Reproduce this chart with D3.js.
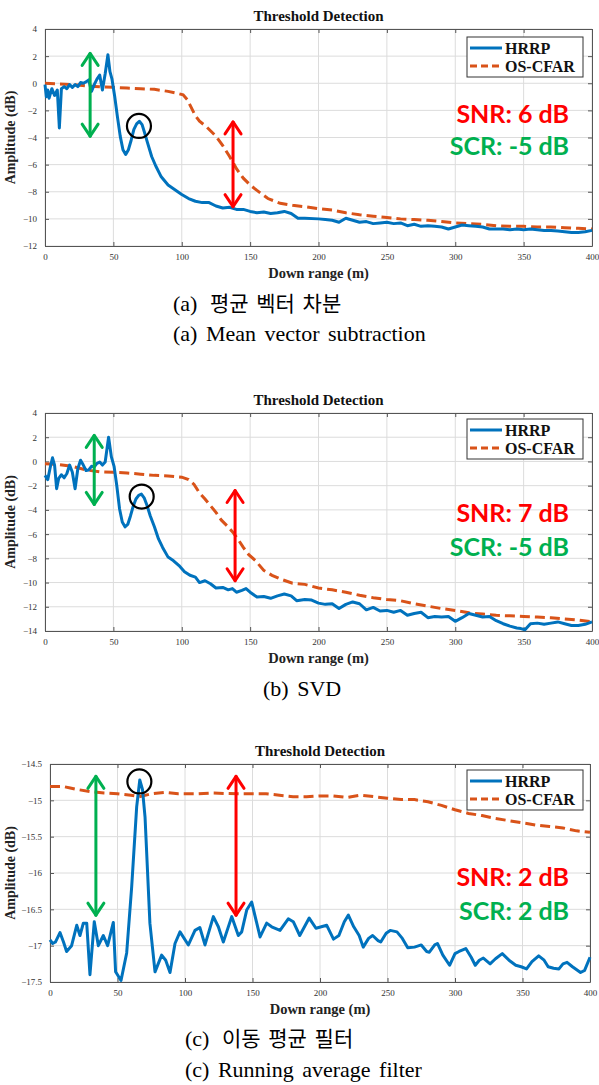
<!DOCTYPE html>
<html>
<head>
<meta charset="utf-8">
<script src="https://cdn.jsdelivr.net/npm/d3@7"></script>
<style>
  body { margin: 0; background: #fff; }
  svg { display: block; }
</style>
</head>
<body>
<svg id="chart" width="599" height="1085"></svg>
<script>
// tick values
var xTicks = [0, 50, 100, 150, 200, 250, 300, 350, 400];
var yTicksA = [4, 2, 0, -2, -4, -6, -8, -10, -12];
var yTicksB = [4, 2, 0, -2, -4, -6, -8, -10, -12, -14];
var yTicksC = [-14.5, -15, -15.5, -16, -16.5, -17, -17.5];

// (a) mean vector subtraction  [range m, amplitude dB]
var meanHrrp = [[0,-0.1],[1,-1.0],[2,-0.5],[3,-1.1],[5,-0.4],[7,-0.9],[9,-0.5],[10.5,-3.3],[12,-0.4],[14,-0.25],[16,-0.4],[18,-0.1],[20,-0.3],[22,-0.1],[24,-0.25],[26,0.05],[28,0],[30,0.1],[32,0.25],[34,-0.6],[36,-0.1],[38,0.3],[40,0.6],[42,-0.5],[44,0.7],[46,2.1],[47.5,0.85],[49,0.3],[51,-1.0],[53,-2.5],[55,-3.9],[57,-4.9],[59,-5.25],[61,-4.9],[63,-4.2],[65,-3.4],[67,-3.0],[69,-2.8],[71,-3.05],[73,-3.7],[75,-4.4],[78,-5.4],[81,-6.1],[85,-6.9],[90,-7.5],[95,-7.85],[100,-8.2],[105,-8.5],[110,-8.7],[115,-8.8],[120,-8.8],[125,-9.05],[130,-9.2],[135,-9.15],[140,-9.3],[145,-9.3],[150,-9.45],[155,-9.55],[160,-9.5],[165,-9.6],[170,-9.55],[175,-9.45],[180,-9.6],[185,-9.95],[190,-9.95],[200,-10.0],[205,-10.05],[210,-10.1],[215,-10.25],[220,-9.95],[225,-10.1],[230,-10.25],[235,-10.2],[240,-10.35],[245,-10.3],[250,-10.25],[255,-10.35],[260,-10.3],[265,-10.5],[270,-10.4],[275,-10.55],[280,-10.5],[285,-10.55],[290,-10.6],[295,-10.75],[300,-10.6],[305,-10.45],[310,-10.5],[315,-10.55],[320,-10.6],[325,-10.75],[330,-10.75],[335,-10.75],[340,-10.8],[345,-10.75],[350,-10.8],[355,-10.75],[360,-10.8],[365,-10.85],[370,-10.85],[375,-10.9],[380,-10.95],[385,-11.0],[390,-11.0],[395,-10.95],[400,-10.85]];
var meanCfar = [[0,0],[10,-0.05],[20,-0.1],[30,-0.2],[40,-0.25],[50,-0.3],[60,-0.35],[70,-0.4],[80,-0.45],[90,-0.6],[97,-0.75],[101,-0.85],[104,-1.2],[107,-1.8],[110,-2.4],[113,-2.8],[118,-3.2],[125,-3.9],[130,-4.6],[135,-5.4],[140,-6.3],[145,-7.0],[150,-7.5],[155,-7.9],[163,-8.5],[172,-8.85],[181,-9.0],[190,-9.1],[200,-9.25],[210,-9.35],[220,-9.55],[230,-9.7],[240,-9.8],[250,-9.9],[260,-10.0],[270,-10.05],[280,-10.1],[290,-10.2],[300,-10.3],[310,-10.35],[320,-10.4],[330,-10.5],[340,-10.55],[350,-10.55],[360,-10.6],[370,-10.6],[380,-10.65],[390,-10.7],[400,-10.75]];

// (b) SVD
var svdHrrp = [[0,-1.15],[2,-1.5],[4,-0.4],[5.5,0.3],[7,-0.3],[8.5,-2.25],[10,-1.4],[12,-1.1],[14,-1.35],[16,-1.0],[18,-0.3],[20,-0.9],[22,-2.25],[24,-0.6],[26,0.1],[28,-0.3],[30,-0.75],[32,-0.7],[34,-0.4],[36,-0.45],[38,-0.15],[40,-0.05],[42,-0.3],[44,-0.05],[46.5,2.0],[48.5,0.4],[50.5,-0.4],[52.5,-2.0],[54.5,-3.9],[56.5,-5.0],[58.5,-5.4],[60.5,-5.2],[62.5,-4.5],[64.5,-3.7],[66.5,-3.1],[68.5,-2.8],[70.5,-2.7],[72.5,-3.0],[74.5,-3.6],[77,-4.5],[80,-5.4],[83,-6.4],[86,-7.1],[90,-7.9],[94,-8.2],[98,-8.6],[102,-9.1],[106,-9.4],[110,-9.55],[113,-10.0],[117,-9.85],[121,-10.1],[125,-10.45],[130,-10.4],[134,-10.6],[137,-10.5],[140,-10.8],[144,-10.65],[147,-10.5],[150,-10.8],[155,-11.2],[160,-11.15],[165,-11.3],[170,-11.1],[175,-10.95],[180,-11.1],[184,-11.5],[190,-11.4],[195,-11.45],[200,-11.7],[205,-11.8],[210,-11.75],[215,-12.15],[220,-11.8],[225,-11.6],[230,-11.75],[235,-12.25],[240,-12.05],[245,-12.35],[250,-12.3],[255,-12.45],[260,-12.3],[265,-12.7],[270,-12.55],[275,-12.45],[280,-12.9],[285,-12.8],[290,-12.85],[295,-12.8],[300,-13.2],[305,-12.9],[310,-12.55],[315,-12.7],[320,-12.85],[325,-12.8],[330,-13.15],[335,-13.4],[340,-13.6],[345,-13.75],[348,-13.8],[351,-13.9],[355,-13.4],[360,-13.35],[365,-13.45],[370,-13.35],[375,-13.25],[380,-13.4],[385,-13.55],[390,-13.55],[395,-13.45],[400,-13.25]];
var svdCfar = [[0,-0.2],[10,-0.25],[20,-0.4],[30,-0.7],[40,-0.85],[50,-0.9],[60,-0.95],[70,-1.05],[80,-1.15],[90,-1.2],[100,-1.3],[105,-1.5],[109,-1.9],[113,-2.6],[117,-3.1],[121,-3.65],[125,-4.2],[129,-4.85],[133,-5.3],[137,-5.8],[141,-6.4],[145,-7.1],[149,-7.7],[154,-8.2],[160,-9.0],[166,-9.4],[172,-9.7],[181,-10.05],[190,-10.15],[200,-10.45],[210,-10.6],[220,-10.8],[230,-11.05],[240,-11.25],[250,-11.4],[260,-11.5],[270,-11.75],[280,-11.95],[290,-12.15],[300,-12.3],[310,-12.5],[320,-12.6],[330,-12.7],[340,-12.75],[350,-12.8],[360,-12.85],[370,-12.9],[380,-13.0],[390,-13.1],[400,-13.25]];

// (c) running average filter
var runHrrp = [[0,-16.92],[2,-16.97],[4,-16.95],[7.4,-16.82],[10,-16.95],[12.3,-17.08],[16,-17.0],[19.8,-16.72],[22.2,-16.86],[24.7,-16.69],[27.2,-16.69],[29.6,-17.4],[32.8,-16.67],[35.8,-17.0],[39.5,-16.86],[42.7,-17.0],[46.9,-16.68],[48.6,-17.36],[52.6,-17.48],[56.8,-17.1],[60.5,-16.19],[64.2,-15.09],[66.5,-14.72],[68.5,-14.85],[70.4,-15.23],[74,-16.69],[77.8,-17.36],[82.7,-17.13],[85.7,-17.2],[88.9,-17.37],[92.6,-16.97],[96.3,-16.81],[102.5,-16.99],[107.4,-16.79],[111,-16.75],[114.8,-16.99],[121,-16.6],[124.7,-16.74],[128.4,-16.95],[134.6,-16.6],[139.5,-16.86],[142,-16.81],[145.7,-16.51],[149.4,-16.4],[155.6,-16.88],[160.5,-16.69],[164.2,-16.74],[170.4,-16.79],[176.5,-16.63],[180.2,-16.67],[185,-16.86],[192,-16.62],[197,-16.76],[201,-16.74],[205,-16.72],[210,-16.91],[214,-16.86],[218,-16.67],[221,-16.58],[225,-16.74],[229,-16.86],[232,-17.02],[236,-16.9],[239,-16.86],[243,-16.93],[245,-16.95],[249,-16.83],[252,-16.79],[257,-16.81],[261,-16.9],[265,-17.03],[270,-17.02],[275,-16.99],[279,-17.08],[281,-17.09],[285,-16.99],[287,-16.97],[291,-17.13],[296,-17.27],[300,-17.11],[303,-17.08],[308,-17.04],[312,-17.16],[315,-17.27],[318,-17.2],[321,-17.17],[326,-17.25],[330,-17.18],[335,-17.11],[340,-17.2],[345,-17.27],[349,-17.29],[353,-17.32],[357,-17.22],[362,-17.14],[366,-17.2],[369,-17.29],[373,-17.31],[377,-17.32],[380,-17.25],[383,-17.23],[387,-17.29],[393,-17.37],[396,-17.34],[400,-17.16]];
var runCfar = [[0,-14.81],[10,-14.81],[15,-14.83],[20,-14.85],[30,-14.88],[40,-14.9],[50,-14.91],[60,-14.93],[66,-14.95],[75,-14.91],[85,-14.89],[95,-14.91],[110,-14.91],[120,-14.9],[140,-14.91],[160,-14.91],[170,-14.93],[180,-14.95],[190,-14.95],[200,-14.94],[210,-14.94],[220,-14.96],[230,-14.93],[240,-14.95],[250,-14.97],[260,-14.99],[270,-14.99],[280,-15.02],[290,-15.07],[300,-15.13],[310,-15.18],[320,-15.21],[330,-15.25],[340,-15.28],[350,-15.31],[360,-15.34],[370,-15.36],[380,-15.38],[390,-15.42],[400,-15.44]];

var snrLabels = ["SNR: 6 dB", "SNR: 7 dB", "SNR: 2 dB"];
var scrLabels = ["SCR: -5 dB", "SCR: -5 dB", "SCR: 2 dB"];
var seriesNames = ["HRRP", "OS-CFAR"];

var blue = "#0072BD", orange = "#D95319", red = "#FF0000", green = "#00B050";
var serif = "'Liberation Serif', 'Times New Roman', serif";
var bigSans = "Lato, 'Noto Sans', sans-serif";

var panels = [
  { left: 45, right: 592, top: 29, bottom: 246, yDomain: [-12, 4], yTicks: yTicksA,
    hrrp: meanHrrp, cfar: meanCfar, greenX: 33, redX: 137.5, arrowG: [2.2, -3.9], arrowR: [-2.85, -9.1],
    circle: [68.7, -3.15], snrY: 123, scrY: 155, legendTop: 37,
    captions: [["(a) 평균 벡터 차분", 173, 311], ["(a) Mean vector subtraction", 173, 341]] },
  { left: 45, right: 592, top: 413, bottom: 631, yDomain: [-14, 4], yTicks: yTicksB,
    hrrp: svdHrrp, cfar: svdCfar, greenX: 36, redX: 139, arrowG: [2.15, -3.55], arrowR: [-2.4, -9.85],
    circle: [70.7, -2.9], snrY: 522, scrY: 556, legendTop: 419,
    captions: [["(b) SVD", 263, 696]] },
  { left: 50, right: 590, top: 764, bottom: 982, yDomain: [-17.5, -14.5], yTicks: yTicksC,
    hrrp: runHrrp, cfar: runCfar, greenX: 34, redX: 137.8, arrowG: [-14.67, -16.58], arrowR: [-14.67, -16.58],
    circle: [66.2, -14.74], snrY: 886, scrY: 920, legendTop: 770,
    captions: [["(c) 이동 평균 필터", 185, 1046], ["(c) Running average filter", 185, 1077]] }
];

var svg = d3.select("#chart");

panels.forEach(function(p, i) {
  var x = d3.scaleLinear().domain([0, 400]).range([p.left, p.right]);
  var y = d3.scaleLinear().domain(p.yDomain).range([p.bottom, p.top]);
  var g = svg.append("g");
  var cx = (p.left + p.right) / 2;

  // grid
  g.selectAll(".gx").data(xTicks).enter().append("line")
    .attr("x1", d => x(d)).attr("x2", d => x(d))
    .attr("y1", p.top).attr("y2", p.bottom)
    .attr("stroke", "#dcdcdc").attr("stroke-width", 1);
  g.selectAll(".gy").data(p.yTicks).enter().append("line")
    .attr("x1", p.left).attr("x2", p.right)
    .attr("y1", d => y(d)).attr("y2", d => y(d))
    .attr("stroke", "#dcdcdc").attr("stroke-width", 1);

  // axes (ticks inward, box)
  var fmt = d3.format("");
  g.append("g").attr("transform", "translate(0," + p.bottom + ")")
    .call(d3.axisBottom(x).tickValues(xTicks).tickSizeInner(-4).tickSizeOuter(0).tickPadding(8).tickFormat(fmt));
  g.append("g").attr("transform", "translate(0," + p.top + ")")
    .call(d3.axisTop(x).tickValues(xTicks).tickSizeInner(-4).tickSizeOuter(0).tickFormat(""));
  g.append("g").attr("transform", "translate(" + p.left + ",0)")
    .call(d3.axisLeft(y).tickValues(p.yTicks).tickSizeInner(-4).tickSizeOuter(0).tickPadding(8).tickFormat(fmt));
  g.append("g").attr("transform", "translate(" + p.right + ",0)")
    .call(d3.axisRight(y).tickValues(p.yTicks).tickSizeInner(-4).tickSizeOuter(0).tickFormat(""));
  g.selectAll(".domain").attr("stroke", "#555");
  g.selectAll(".tick line").attr("stroke", "#555");
  g.selectAll(".tick text").attr("font-family", serif).attr("font-size", 9).attr("fill", "#333");

  // series
  var line = d3.line().x(d => x(d[0])).y(d => y(d[1]));
  g.append("path").datum(p.cfar)
    .attr("fill", "none").attr("stroke", orange).attr("stroke-width", 3)
    .attr("stroke-dasharray", "10,5").attr("d", line);
  g.append("path").datum(p.hrrp)
    .attr("fill", "none").attr("stroke", blue).attr("stroke-width", 3)
    .attr("stroke-linejoin", "round").attr("d", line);

  // double arrows
  function arrow(xv, yv, col) {
    var ax = x(xv), y1 = y(yv[0]), y2 = y(yv[1]);
    var a = g.append("g").attr("stroke", col).attr("stroke-width", 3)
      .attr("fill", "none").attr("stroke-linecap", "round").attr("stroke-linejoin", "round");
    a.append("line").attr("x1", ax).attr("x2", ax).attr("y1", y1).attr("y2", y2);
    a.append("path").attr("d", "M" + (ax - 8) + "," + (y1 + 12) + "L" + ax + "," + y1 + "L" + (ax + 8) + "," + (y1 + 12));
    a.append("path").attr("d", "M" + (ax - 8) + "," + (y2 - 12) + "L" + ax + "," + y2 + "L" + (ax + 8) + "," + (y2 - 12));
  }
  arrow(p.greenX, p.arrowG, green);
  arrow(p.redX, p.arrowR, red);

  g.append("circle").attr("cx", x(p.circle[0])).attr("cy", y(p.circle[1])).attr("r", 12)
    .attr("fill", "none").attr("stroke", "#000").attr("stroke-width", 2.2);

  // SNR / SCR text
  g.append("text").attr("x", 569).attr("y", p.snrY).attr("text-anchor", "end")
    .attr("font-family", bigSans).attr("font-weight", "bold")
    .attr("font-size", 25).attr("fill", red).text(snrLabels[i]);
  g.append("text").attr("x", 569).attr("y", p.scrY).attr("text-anchor", "end")
    .attr("font-family", bigSans).attr("font-weight", "bold")
    .attr("font-size", 25).attr("fill", green).text(scrLabels[i]);

  // legend
  var lg = g.append("g").attr("transform", "translate(467," + p.legendTop + ")");
  lg.append("rect").attr("width", 116).attr("height", 40).attr("fill", "#fff")
    .attr("stroke", "#333").attr("stroke-width", 1);
  seriesNames.forEach(function(name, k) {
    var ly = 11 + k * 18;
    lg.append("line").attr("x1", 3).attr("x2", 35).attr("y1", ly).attr("y2", ly)
      .attr("stroke", k === 0 ? blue : orange).attr("stroke-width", 3)
      .attr("stroke-dasharray", k === 0 ? null : "7,4");
    lg.append("text").attr("x", 38).attr("y", ly + 5.5)
      .attr("font-family", serif).attr("font-weight", "bold").attr("font-size", 16)
      .attr("fill", "#111").text(name);
  });

  // titles and labels
  g.append("text").attr("x", cx).attr("y", p.top - 8).attr("text-anchor", "middle")
    .attr("font-family", serif).attr("font-weight", "bold").attr("font-size", 15)
    .attr("fill", "#111").text("Threshold Detection");
  g.append("text").attr("x", cx).attr("y", p.bottom + 32).attr("text-anchor", "middle")
    .attr("font-family", serif).attr("font-weight", "bold").attr("font-size", 14.5)
    .attr("fill", "#222").text("Down range (m)");
  g.append("text").attr("transform", "translate(15," + (p.top + p.bottom) / 2 + ") rotate(-90)")
    .attr("text-anchor", "middle")
    .attr("font-family", serif).attr("font-weight", "bold").attr("font-size", 14)
    .attr("fill", "#222").text("Amplitude (dB)");

  // captions
  p.captions.forEach(function(c) {
    var t = g.append("text").attr("x", c[1]).attr("y", c[2])
      .attr("font-size", 22).attr("fill", "#000").attr("word-spacing", 3);
    if (/[가-힣]/.test(c[0])) {
      var m = c[0].indexOf(" ");
      t.append("tspan").attr("font-family", serif).text(c[0].slice(0, m + 1));
      t.append("tspan").attr("font-family", "'Noto Sans CJK KR', sans-serif").attr("font-size", 21)
        .attr("dx", 4).text(c[0].slice(m + 1));
    } else {
      t.attr("font-family", serif).text(c[0]);
    }
  });
});
</script>
</body>
</html>
